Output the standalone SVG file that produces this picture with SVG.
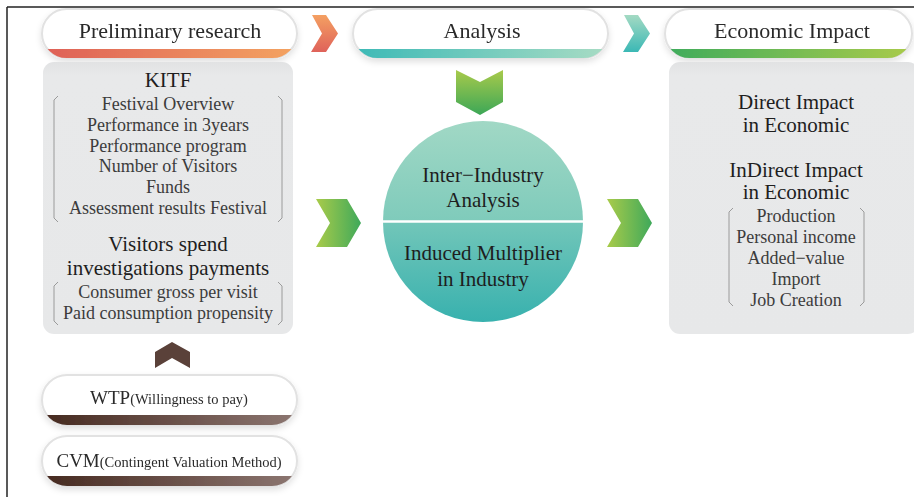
<svg xmlns="http://www.w3.org/2000/svg" width="914" height="497" viewBox="0 0 914 497">
  <defs>
    <linearGradient id="gOrange" x1="0" y1="0" x2="1" y2="0">
      <stop offset="0" stop-color="#de5f57"/>
      <stop offset="1" stop-color="#f4a461"/>
    </linearGradient>
    <linearGradient id="gTeal" x1="0" y1="0" x2="1" y2="0">
      <stop offset="0" stop-color="#3bb9b6"/>
      <stop offset="1" stop-color="#a9dcc4"/>
    </linearGradient>
    <linearGradient id="gGreen" x1="0" y1="0" x2="1" y2="0">
      <stop offset="0" stop-color="#3dab5c"/>
      <stop offset="1" stop-color="#aacb4b"/>
    </linearGradient>
    <linearGradient id="gBrown" x1="0" y1="0" x2="1" y2="0">
      <stop offset="0" stop-color="#45291f"/>
      <stop offset="1" stop-color="#8d7772"/>
    </linearGradient>
    <linearGradient id="gChevOrange" x1="0" y1="0" x2="0" y2="1">
      <stop offset="0" stop-color="#f4a062"/>
      <stop offset="1" stop-color="#df625a"/>
    </linearGradient>
    <linearGradient id="gChevTeal" x1="0" y1="0" x2="0" y2="1">
      <stop offset="0" stop-color="#a4dac3"/>
      <stop offset="1" stop-color="#3bb8b5"/>
    </linearGradient>
    <linearGradient id="gChevDown" x1="0" y1="0" x2="0" y2="1">
      <stop offset="0" stop-color="#a8ca4b"/>
      <stop offset="1" stop-color="#3ca757"/>
    </linearGradient>
    <linearGradient id="gChevRight" x1="0" y1="0" x2="1" y2="0">
      <stop offset="0" stop-color="#a9cb4a"/>
      <stop offset="1" stop-color="#3fa95a"/>
    </linearGradient>
    <linearGradient id="gCircTop" x1="0" y1="0" x2="0" y2="1">
      <stop offset="0" stop-color="#a1d8c5"/>
      <stop offset="1" stop-color="#7fcbbb"/>
    </linearGradient>
    <linearGradient id="gCircBot" x1="0" y1="0" x2="0" y2="1">
      <stop offset="0" stop-color="#72c6b9"/>
      <stop offset="1" stop-color="#38b1ae"/>
    </linearGradient>
    <linearGradient id="gBox" x1="0" y1="0" x2="0" y2="1">
      <stop offset="0" stop-color="#e1e2e3"/>
      <stop offset="0.05" stop-color="#e8e9ea"/>
      <stop offset="1" stop-color="#e7e8e9"/>
    </linearGradient>
    <filter id="shadow" x="-10%" y="-20%" width="120%" height="160%">
      <feDropShadow dx="0" dy="3" stdDeviation="3" flood-color="#000" flood-opacity="0.12"/>
    </filter>
    <clipPath id="clipP1"><rect x="42" y="9" width="255" height="49" rx="24.5"/></clipPath>
    <clipPath id="clipP2"><rect x="353" y="9" width="255" height="49" rx="24.5"/></clipPath>
    <clipPath id="clipP3"><rect x="665" y="9" width="247" height="49" rx="24.5"/></clipPath>
    <clipPath id="clipP4"><rect x="42" y="375" width="255" height="50" rx="25"/></clipPath>
    <clipPath id="clipP5"><rect x="42" y="436" width="255" height="50" rx="25"/></clipPath>
  </defs>
  <style>
    .pill { fill: #ffffff; stroke: #e2e2e2; stroke-width: 2; }
    .head { font-family: "Liberation Serif", "DejaVu Serif", serif; font-size: 22px; fill: #2a2a2a; text-anchor: middle; }
    .big { font-family: "Liberation Serif", "DejaVu Serif", serif; font-size: 21px; fill: #1e1e1e; text-anchor: middle; }
    .item { font-family: "Liberation Serif", "DejaVu Serif", serif; font-size: 18px; fill: #3c3c3c; text-anchor: middle; }
    .tag { font-family: "Liberation Serif", "DejaVu Serif", serif; font-size: 19px; fill: #2a2a2a; }
    .small { font-family: "Liberation Serif", "DejaVu Serif", serif; font-size: 14.5px; fill: #2a2a2a; }
    .bracket { fill: none; stroke: #9a9a9a; stroke-width: 1; }
    .box { fill: url(#gBox); }
  </style>

  <!-- frame edges -->
  <line x1="7" y1="7" x2="914" y2="7" stroke="#222" stroke-width="1.5"/>
  <line x1="7" y1="7" x2="7" y2="497" stroke="#222" stroke-width="1.5"/>

  <!-- stage headers -->
  <g id="head-preliminary" filter="url(#shadow)">
    <rect class="pill" x="42" y="9" width="255" height="49" rx="24.5"/>
    <rect x="40" y="49" width="260" height="10" fill="url(#gOrange)" clip-path="url(#clipP1)"/>
    <text class="head" x="170" y="38">Preliminary research</text>
  </g>
  <g id="head-analysis" filter="url(#shadow)">
    <rect class="pill" x="353" y="9" width="255" height="49" rx="24.5"/>
    <rect x="350" y="49" width="260" height="10" fill="url(#gTeal)" clip-path="url(#clipP2)"/>
    <text class="head" x="482" y="38">Analysis</text>
  </g>
  <g id="head-impact" filter="url(#shadow)">
    <rect class="pill" x="665" y="9" width="247" height="49" rx="24.5"/>
    <rect x="662" y="49" width="252" height="10" fill="url(#gGreen)" clip-path="url(#clipP3)"/>
    <text class="head" x="792" y="38">Economic Impact</text>
  </g>

  <!-- left research box -->
  <g id="box-research">
    <rect class="box" x="43" y="62" width="250" height="272" rx="11"/>
    <text class="big" x="168" y="87">KITF</text>
    <path class="bracket" d="M58,96 L54,100 L54,218 L58,222"/>
    <path class="bracket" d="M278,96 L282,100 L282,218 L278,222"/>
    <text class="item" x="168" y="110">Festival Overview</text>
    <text class="item" x="168" y="131">Performance in 3years</text>
    <text class="item" x="168" y="152">Performance program</text>
    <text class="item" x="168" y="172">Number of Visitors</text>
    <text class="item" x="168" y="193">Funds</text>
    <text class="item" x="168" y="214">Assessment results Festival</text>
    <text class="big" x="168" y="251">Visitors spend</text>
    <text class="big" x="168" y="275">investigations payments</text>
    <path class="bracket" d="M58,282 L54,286 L54,321 L58,325"/>
    <path class="bracket" d="M278,282 L282,286 L282,321 L278,325"/>
    <text class="item" x="168" y="298">Consumer gross per visit</text>
    <text class="item" x="168" y="319">Paid consumption propensity</text>
  </g>

  <!-- method pills -->
  <g id="pill-wtp" filter="url(#shadow)">
    <rect class="pill" x="42" y="375" width="255" height="50" rx="25"/>
    <rect x="40" y="415" width="260" height="12" fill="url(#gBrown)" clip-path="url(#clipP4)"/>
    <text x="169" y="404" text-anchor="middle"><tspan class="tag">WTP</tspan><tspan class="small">(Willingness to pay)</tspan></text>
  </g>
  <g id="pill-cvm" filter="url(#shadow)">
    <rect class="pill" x="42" y="436" width="255" height="50" rx="25"/>
    <rect x="40" y="476" width="260" height="12" fill="url(#gBrown)" clip-path="url(#clipP5)"/>
    <text x="169" y="467" text-anchor="middle"><tspan class="tag">CVM</tspan><tspan class="small">(Contingent Valuation Method)</tspan></text>
  </g>

  <!-- analysis circle -->
  <g id="circle-analysis">
    <path d="M383,221 A100,100 0 0 1 583,221 Z" fill="url(#gCircTop)"/>
    <path d="M383,222 A100,100 0 0 0 583,222 Z" fill="url(#gCircBot)"/>
    <line x1="383" y1="221.5" x2="583" y2="221.5" stroke="#ffffff" stroke-width="2.5"/>
    <text class="big" x="483" y="182">Inter−Industry</text>
    <text class="big" x="483" y="207">Analysis</text>
    <text class="big" x="483" y="260">Induced Multiplier</text>
    <text class="big" x="483" y="286">in Industry</text>
  </g>

  <!-- right impact box -->
  <g id="box-impact">
    <rect class="box" x="669" y="62" width="250" height="272" rx="11"/>
    <text class="big" x="796" y="109">Direct Impact</text>
    <text class="big" x="796" y="132">in Economic</text>
    <text class="big" x="796" y="177">InDirect Impact</text>
    <text class="big" x="796" y="199">in Economic</text>
    <path class="bracket" d="M733,208 L729,212 L729,302 L733,306"/>
    <path class="bracket" d="M860,208 L864,212 L864,302 L860,306"/>
    <text class="item" x="796" y="222">Production</text>
    <text class="item" x="796" y="243">Personal income</text>
    <text class="item" x="796" y="264">Added−value</text>
    <text class="item" x="796" y="285">Import</text>
    <text class="item" x="796" y="306">Job Creation</text>
  </g>

  <!-- connectors -->
  <g id="connectors">
    <polygon points="312,15 326,15 338,33.5 326,52 311,52 322,33.5" fill="url(#gChevOrange)"/>
    <polygon points="624,15 638,15 650,33.5 638,52 623,52 634,33.5" fill="url(#gChevTeal)"/>
    <polygon points="456,70 480,82 503,70 503,102 480,115 456,102" fill="url(#gChevDown)"/>
    <polygon points="316,199 347,199 361,223 347,247 316,247 330,223" fill="url(#gChevRight)"/>
    <polygon points="607,199 638,199 652,223 638,247 607,247 621,223" fill="url(#gChevRight)"/>
    <polygon points="155,352 172,342 190,352 190,368 172,358 155,368" fill="#5a4139"/>
  </g>
</svg>
